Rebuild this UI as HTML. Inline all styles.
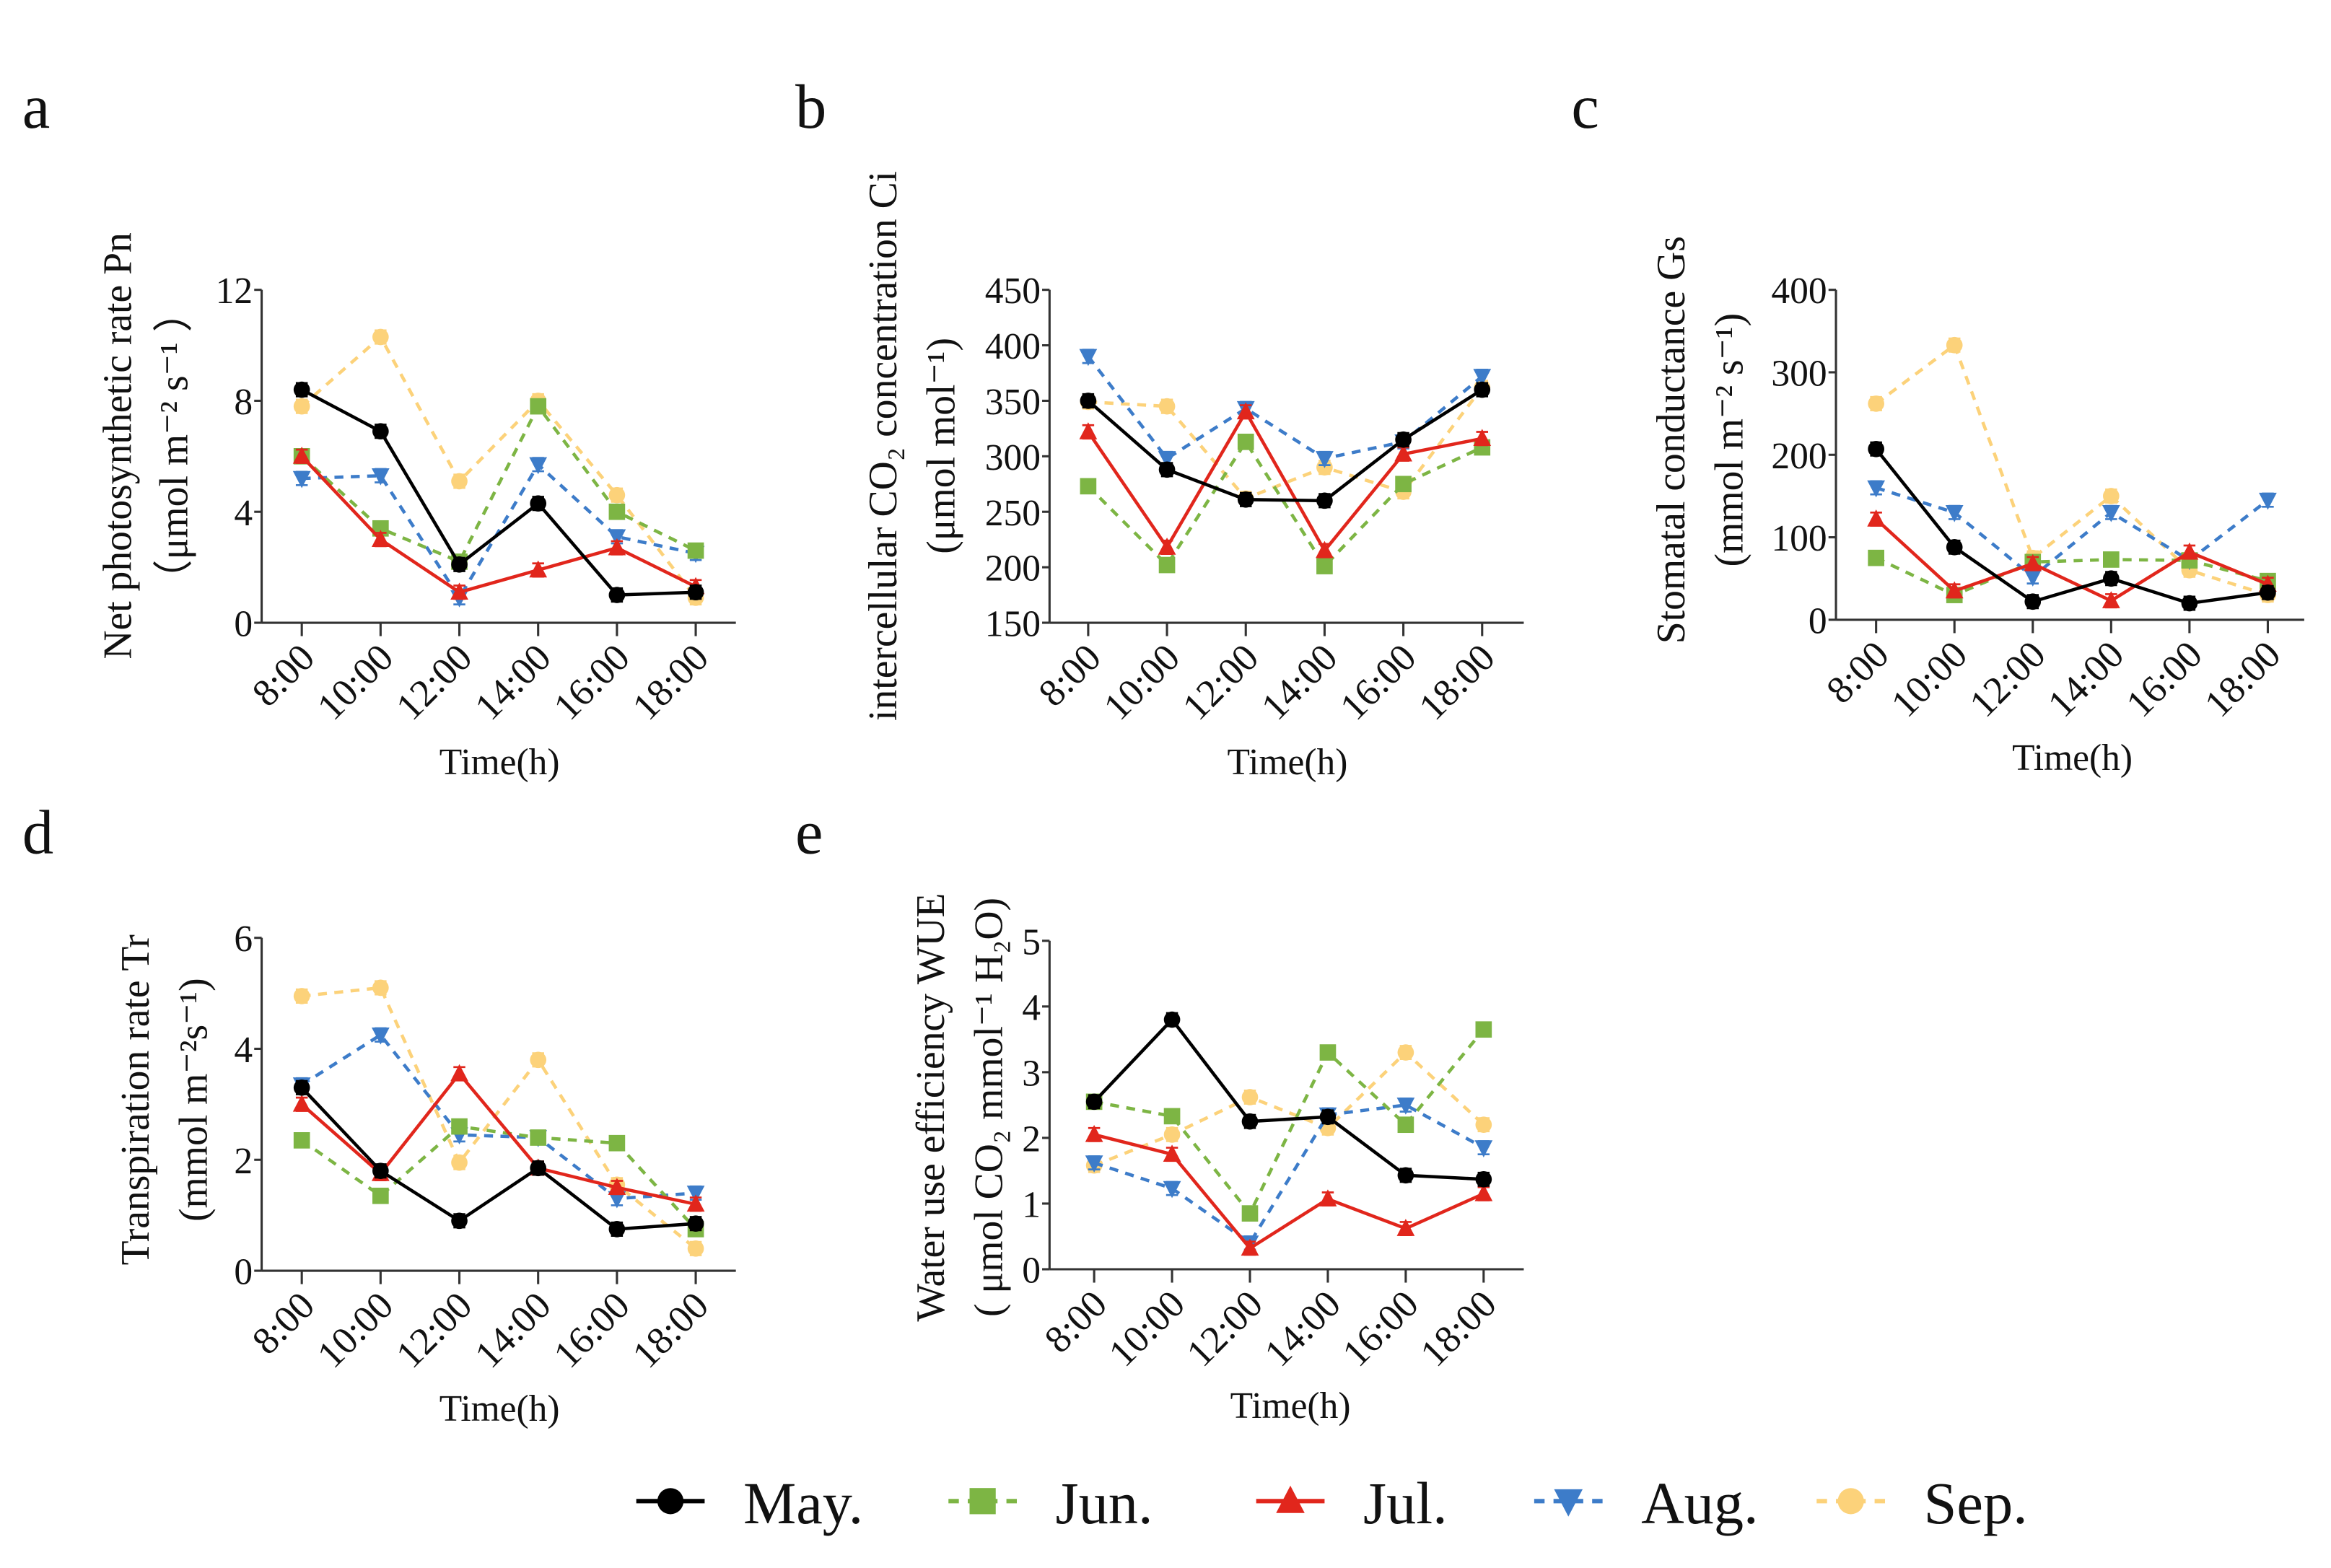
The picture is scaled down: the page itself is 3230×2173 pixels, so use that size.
<!DOCTYPE html>
<html><head><meta charset="utf-8">
<style>
html,body{margin:0;padding:0;background:#fff;}
svg{display:block;}
text{font-family:"Liberation Serif",serif;fill:#111;}
</style></head>
<body>
<svg id="fig" width="3230" height="2173" viewBox="0 0 1568 1055" preserveAspectRatio="none" xmlns="http://www.w3.org/2000/svg"></svg>
<script>
const times = ["8:00","10:00","12:00","14:00","16:00","18:00"];
const seriesNames = ["May.","Jun.","Jul.","Aug.","Sep."];
// Panel a: Pn
const pnMay=[8.4,6.9,2.1,4.3,1.0,1.1];
const pnJun=[6.0,3.4,2.2,7.8,4.0,2.6];
const pnJul=[6.0,3.0,1.1,1.9,2.7,1.3];
const pnAug=[5.2,5.3,0.9,5.7,3.1,2.5];
const pnSep=[7.8,10.3,5.1,8.0,4.6,0.9];
const pnTicks=[0,4,8,12];
// Panel b: Ci
const ciMay=[350,288,261,260,315,360];
const ciJun=[273,202,313,201,275,308];
const ciJul=[322,218,340,215,302,316];
const ciAug=[390,298,343,298,313,372];
const ciSep=[349,345,262,290,268,362];
const ciTicks=[150,200,250,300,350,400,450];
// Panel c: Gs
const gsMay=[207,88,22,50,20,33];
const gsJun=[75,30,70,73,72,47];
const gsJul=[122,35,68,23,82,43];
const gsAug=[160,130,52,130,72,145];
const gsSep=[262,333,75,150,60,30];
const gsTicks=[0,100,200,300,400];
// Panel d: Tr
const trMay=[3.3,1.8,0.9,1.85,0.75,0.85];
const trJun=[2.35,1.35,2.6,2.4,2.3,0.75];
const trJul=[3.0,1.75,3.55,1.85,1.5,1.2];
const trAug=[3.35,4.25,2.45,2.4,1.3,1.4];
const trSep=[4.95,5.1,1.95,3.8,1.55,0.4];
const trTicks=[0,2,4,6];
// Panel e: WUE
const wueMay=[2.55,3.8,2.25,2.32,1.43,1.37];
const wueJun=[2.55,2.33,0.85,3.3,2.2,3.65];
const wueJul=[2.05,1.75,0.32,1.07,0.62,1.15];
const wueAug=[1.62,1.23,0.4,2.35,2.5,1.85];
const wueSep=[1.58,2.05,2.62,2.15,3.3,2.2];
const wueTicks=[0,1,2,3,4,5];

const colors=["#000000","#7db544","#e1261c","#3d7cc9","#fcd27a"];
const dashes=[null,"6,5",null,"6,5","6,5"];
const markers=["circle","square","triUp","triDown","circle"];
const svg=document.getElementById('fig');
const NS="http://www.w3.org/2000/svg";
function mk(tag,attrs,parent){const e=document.createElementNS(NS,tag);for(const k in attrs)e.setAttribute(k,attrs[k]);(parent||svg).appendChild(e);return e;}
function txt(s,attrs,parent){const t=mk('text',attrs,parent);t.textContent=s;return t;}

function marker(g,type,x,y,c){
  let m;
  if(type==="circle") m=mk('circle',{cx:x,cy:y,r:5.5,fill:c},g);
  else if(type==="square") m=mk('rect',{x:x-5.5,y:y-5.5,width:11,height:11,fill:c},g);
  else if(type==="triUp") m=mk('polygon',{points:`${x},${y-6.5} ${x-6},${y+5} ${x+6},${y+5}`,fill:c},g);
  else m=mk('polygon',{points:`${x},${y+6.5} ${x-6},${y-5} ${x+6},${y-5}`,fill:c},g);
  return m;
}

function panel(id,letter,lx,ly,ax,x0,dx,yTop,yBot,vmin,vmax,ticks,data,xEnd,title1,title2,t1x,t2x,ty,timeX,timeY){
  const g=mk('g',{});
  
  
  const L=txt(letter,{x:lx,y:ly,'font-size':42},g);
  
  
  const yS=v=>yBot-(v-vmin)/(vmax-vmin)*(yBot-yTop);
  const xS=i=>x0+i*dx;
  const ya=mk('line',{x1:ax,y1:yTop,x2:ax,y2:yBot,stroke:'#333','stroke-width':1.5},g);
  
  
  const xa=mk('line',{x1:ax,y1:yBot,x2:xEnd,y2:yBot,stroke:'#333','stroke-width':1.5},g);
  
  
  ticks.forEach(t=>{
    const y=yS(t);
    mk('line',{x1:ax-5,y1:y,x2:ax,y2:y,stroke:'#333','stroke-width':1.5},g);
    const tl=txt(String(t),{x:ax-6,y:y+9,'font-size':25,'text-anchor':'end'},g);
    
    
  });
  times.forEach((t,i)=>{
    const x=xS(i);
    mk('line',{x1:x,y1:yBot,x2:x,y2:yBot+9,stroke:'#333','stroke-width':1.5},g);
    const tl=txt(t,{x:0,y:0,'font-size':26,'text-anchor':'end',transform:`translate(${x+10},${yBot+25}) rotate(-45)`},g);
    
    
  });
  const tt=txt("Time(h)",{x:timeX,y:timeY,'font-size':25,'text-anchor':'middle'},g);
  
  
  const a1=txt(title1,{x:0,y:0,'font-size':27,'text-anchor':'middle',transform:`translate(${t1x},${ty}) rotate(-90)`},g);
  
  
  const a2=txt(title2,{x:0,y:0,'font-size':27,'text-anchor':'middle',transform:`translate(${t2x},${ty}) rotate(-90)`},g);
  
  
  const err=(vmax-vmin)*0.02;
  [4,3,1,2,0].forEach(s=>{
    const vals=data[s];
    const sg=mk('g',{},g);
    
    
    const pts=vals.map((v,i)=>xS(i)+','+yS(v)).join(' ');
    const pl=mk('polyline',{points:pts,fill:'none',stroke:colors[s],'stroke-width':2.2},sg);
    if(dashes[s]) pl.setAttribute('stroke-dasharray',dashes[s]);
    
    
    vals.forEach((v,i)=>{
      const x=xS(i),y1=yS(v+err),y2=yS(v-err);
      const eb=mk('path',{d:`M${x},${y1}V${y2}M${x-4},${y1}H${x+4}M${x-4},${y2}H${x+4}`,stroke:colors[s],'stroke-width':1.3,fill:'none'},sg);
      
      
      const m=marker(sg,markers[s],x,yS(v),colors[s]);
      
      
    });
  });
}

panel('pn','a',15,86,176,203,53,195,419,0,12,pnTicks,[pnMay,pnJun,pnJul,pnAug,pnSep],495,
 "Net photosynthetic rate Pn","（μmol m⁻² s⁻¹ ）",88,126,300,336,521);
panel('ci','b',535,86,706,732,53,195,419,150,450,ciTicks,[ciMay,ciJun,ciJul,ciAug,ciSep],1025,
 "intercellular CO₂ concentration Ci","(μmol mol⁻¹)",603,642,300,866,521);
panel('gs','c',1057,86,1235,1262,52.7,195,417,0,400,gsTicks,[gsMay,gsJun,gsJul,gsAug,gsSep],1550,
 "Stomatal conductance Gs","(mmol m⁻² s⁻¹)",1133,1172,296,1394,518);
panel('tr','d',15,574,176,203,53,631,855,0,6,trTicks,[trMay,trJun,trJul,trAug,trSep],495,
 "Transpiration rate Tr","(mmol m⁻²s⁻¹)",100,139,740,336,956);
panel('wue','e',535,574,706,736,52.4,633,854,0,5,wueTicks,[wueMay,wueJun,wueJul,wueAug,wueSep],1025,
 "Water use efficiency WUE","( μmol CO₂ mmol⁻¹ H₂O)",635,674,745,868,954);

const legX=[428,638,845,1032,1222];
const lg=mk('g',{});


seriesNames.forEach((n,s)=>{
  const eg=mk('g',{},lg);
  
  
  const x=legX[s],y=1010;
  const l=mk('line',{x1:x,y1:y,x2:x+46,y2:y,stroke:colors[s],'stroke-width':3},eg);
  if(dashes[s]) l.setAttribute('stroke-dasharray','7,6');
  const g2=mk('g',{transform:`translate(${x+23},${y}) scale(1.6) translate(${-(x+23)},${-y})`},eg);
  marker(g2,markers[s],x+23,y,colors[s]);
  txt(n,{x:x+72,y:y+15,'font-size':40},eg);
});
</script>
</body></html>
